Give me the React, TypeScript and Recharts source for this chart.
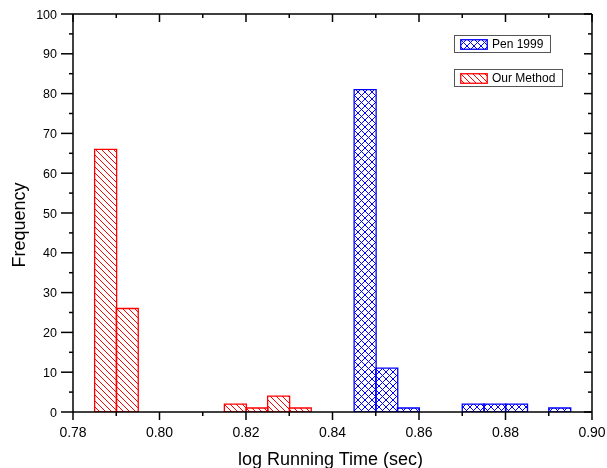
import React from 'react';
import { ComposedChart, Bar, XAxis, YAxis, Legend } from 'recharts';

// histogram bins, centre of each 0.005 wide bin
const binCenters = [
  0.7825, 0.7875, 0.7925, 0.7975, 0.8025, 0.8075, 0.8125, 0.8175, 0.8225, 0.8275, 0.8325, 0.8375,
  0.8425, 0.8475, 0.8525, 0.8575, 0.8625, 0.8675, 0.8725, 0.8775, 0.8825, 0.8875, 0.8925, 0.8975,
];
const ourMethod = [0, 66, 26, 0, 0, 0, 0, 2, 1, 4, 1, 0, 0, 0, 0, 0, 0, 0, 0, 0, 0, 0, 0, 0];
const pen1999 = [0, 0, 0, 0, 0, 0, 0, 0, 0, 0, 0, 0, 0, 81, 11, 1, 0, 0, 2, 2, 2, 0, 1, 0];

const xTicks = [0.78, 0.79, 0.8, 0.81, 0.82, 0.83, 0.84, 0.85, 0.86, 0.87, 0.88, 0.89, 0.9];
const yTicks = [0, 5, 10, 15, 20, 25, 30, 35, 40, 45, 50, 55, 60, 65, 70, 75, 80, 85, 90, 95, 100];
const seriesNames = ['Pen 1999', 'Our Method'];
const xTitle = 'log Running Time (sec)';
const yTitle = 'Frequency';

const RED = '#ff0000';
const BLUE = '#0000ff';
const FONT = '"Liberation Sans", Arial, Helvetica, sans-serif';

const data = binCenters.map((c, i) => ({
  x: c,
  ours: ourMethod[i],
  pen: pen1999[i],
}));

const isMajorX = (v: number) => Math.round(v * 100) % 2 === 0;
const isMajorY = (v: number) => Math.round(v) % 10 === 0;

function BottomTick({ x, y, payload }: any) {
  const v = payload.value;
  const major = isMajorX(v);
  return (
    <g>
      <line x1={x} y1={y} x2={x} y2={y + (major ? 8 : 4)} stroke="#000" strokeWidth={1.5} />
      {major && (
        <text x={x} y={y + 25} textAnchor="middle" fontSize={14} fill="#000" fontFamily={FONT}>
          {v.toFixed(2)}
        </text>
      )}
    </g>
  );
}

function TopTick({ x, y, payload }: any) {
  const major = isMajorX(payload.value);
  return <line x1={x} y1={y} x2={x} y2={y + (major ? 8 : 4)} stroke="#000" strokeWidth={1.5} />;
}

function LeftTick({ x, y, payload }: any) {
  const v = payload.value;
  const major = isMajorY(v);
  return (
    <g>
      <line x1={x - (major ? 12 : 4)} y1={y} x2={x} y2={y} stroke="#000" strokeWidth={1.5} />
      {major && (
        <text x={x - 16} y={y + 4.5} textAnchor="end" fontSize={12.5} fill="#000" fontFamily={FONT}>
          {v}
        </text>
      )}
    </g>
  );
}

function RightTick({ x, y, payload }: any) {
  const major = isMajorY(payload.value);
  return <line x1={x - (major ? 8 : 4)} y1={y} x2={x} y2={y} stroke="#000" strokeWidth={1.5} />;
}

function Swatch({ kind }: { kind: 'pen' | 'ours' }) {
  const color = kind === 'pen' ? BLUE : RED;
  const id = kind === 'pen' ? 'crossBlueL' : 'hatchRedL';
  return (
    <svg width={28} height={11} style={{ display: 'block' }}>
      <defs>
        <pattern id="crossBlueL" patternUnits="userSpaceOnUse" width={7} height={7}>
          <path d="M0,0 L7,7 M7,0 L0,7" stroke={BLUE} strokeWidth={1} />
        </pattern>
        <pattern id="hatchRedL" patternUnits="userSpaceOnUse" width={6} height={6}>
          <path d="M-1,-1 L7,7 M-1,5 L1,7 M5,-1 L7,1" stroke={RED} strokeWidth={1} />
        </pattern>
      </defs>
      <rect x={0.75} y={0.75} width={26.5} height={9.5} fill={`url(#${id})`} stroke={color} strokeWidth={1.3} />
    </svg>
  );
}

function LegendBoxes() {
  const kinds: ('pen' | 'ours')[] = ['pen', 'ours'];
  return (
    <div style={{ display: 'flex', flexDirection: 'column', alignItems: 'flex-start', gap: 16 }}>
      {seriesNames.map((name, i) => (
        <div
          key={name}
          style={{
            display: 'flex',
            alignItems: 'center',
            border: '1px solid #555',
            background: '#fff',
            height: 16,
            padding: '0 7px 0 5px',
            fontFamily: FONT,
            fontSize: 12,
            color: '#000',
          }}
        >
          <Swatch kind={kinds[i]} />
          <span style={{ marginLeft: 4 }}>{name}</span>
        </div>
      ))}
    </div>
  );
}

export default function App() {
  // fixed so the full 460px height does not push a scrollbar into the 468px window
  return (
    <div style={{ position: 'fixed', left: 8, top: 8, width: 599, height: 460, fontFamily: FONT }}>
      <ComposedChart
        width={599}
        height={460}
        data={data}
        margin={{ top: 0, right: 0, bottom: 0, left: 0 }}
        barCategoryGap={0}
        barGap={0}
      >
        <defs>
          <pattern id="crossBlue" patternUnits="userSpaceOnUse" width={7} height={7}>
            <path d="M0,0 L7,7 M7,0 L0,7" stroke={BLUE} strokeWidth={1} />
          </pattern>
          <pattern id="hatchRed" patternUnits="userSpaceOnUse" width={6} height={6}>
            <path d="M-1,-1 L7,7 M-1,5 L1,7 M5,-1 L7,1" stroke={RED} strokeWidth={1} />
          </pattern>
        </defs>
        <XAxis
          xAxisId="num"
          dataKey="x"
          type="number"
          domain={[0.78, 0.9]}
          allowDataOverflow
          ticks={xTicks}
          interval={0}
          height={56}
          tickLine={false}
          tickSize={0}
          tickMargin={0}
          tick={(p: any) => <BottomTick {...p} />}
          axisLine={{ stroke: '#000', strokeWidth: 1.5 }}
          label={{ value: xTitle, position: 'insideBottom', offset: 3, dx: -2, fontSize: 18, fill: '#000', fontFamily: FONT }}
        />
        <XAxis
          xAxisId="top"
          dataKey="x"
          orientation="top"
          type="number"
          domain={[0.78, 0.9]}
          allowDataOverflow
          ticks={xTicks}
          interval={0}
          height={6}
          tickLine={false}
          tickSize={0}
          tickMargin={0}
          tick={(p: any) => <TopTick {...p} />}
          axisLine={{ stroke: '#000', strokeWidth: 1.5 }}
        />
        <YAxis
          yAxisId="left"
          type="number"
          domain={[0, 100]}
          allowDataOverflow
          ticks={yTicks}
          interval={0}
          width={65}
          tickLine={false}
          tickSize={0}
          tickMargin={0}
          tick={(p: any) => <LeftTick {...p} />}
          axisLine={{ stroke: '#000', strokeWidth: 1.5 }}
          label={{
            content: (p: any) => {
              const vb = p.viewBox || { x: 0, y: 6, width: 65, height: 398 };
              const cx = vb.x + 17;
              const cy = vb.y + vb.height / 2 + 12;
              return (
                <text
                  x={cx}
                  y={cy}
                  transform={`rotate(-90 ${cx} ${cy})`}
                  textAnchor="middle"
                  fontSize={18}
                  fill="#000"
                  fontFamily={FONT}
                >
                  {yTitle}
                </text>
              );
            },
          }}
        />
        <YAxis
          yAxisId="right"
          orientation="right"
          type="number"
          domain={[0, 100]}
          allowDataOverflow
          ticks={yTicks}
          interval={0}
          width={15}
          tickLine={false}
          tickSize={0}
          tickMargin={0}
          tick={(p: any) => <RightTick {...p} />}
          axisLine={{ stroke: '#000', strokeWidth: 1.5 }}
        />
        <Bar
          xAxisId="num"
          yAxisId="left"
          dataKey="ours"
          name={seriesNames[1]}
          stackId="h"
          fill="url(#hatchRed)"
          stroke={RED}
          strokeWidth={1.3}
          isAnimationActive={false}
        />
        <Bar
          xAxisId="num"
          yAxisId="left"
          dataKey="pen"
          name={seriesNames[0]}
          stackId="h"
          fill="url(#crossBlue)"
          stroke={BLUE}
          strokeWidth={1.3}
          isAnimationActive={false}
        />
        <Legend
          layout="horizontal"
          verticalAlign="middle"
          align="center"
          wrapperStyle={{ position: 'absolute', left: 446, top: 27, width: 'auto', height: 'auto', margin: 0 }}
          content={() => <LegendBoxes />}
        />
      </ComposedChart>
    </div>
  );
}
